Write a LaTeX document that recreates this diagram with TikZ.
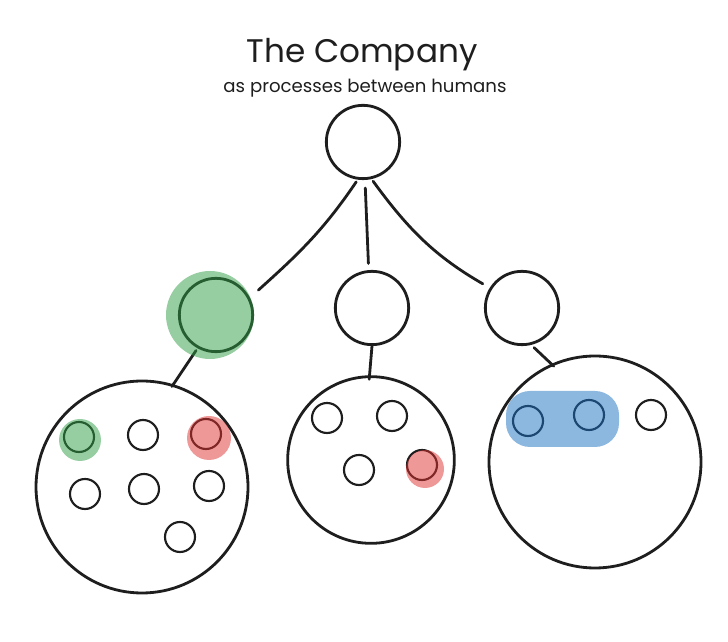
\documentclass[tikz,border=0pt]{standalone}
\usepackage{fontspec}
\setmainfont{Poppins}

\definecolor{ink}{HTML}{1E1E1E}
\definecolor{hlgreen}{HTML}{2F9E44}
\definecolor{hlred}{HTML}{E03131}
\definecolor{hlblue}{HTML}{1971C2}

\tikzset{
  proc/.style={circle, draw=ink, line width=2.1pt, minimum size=55pt, inner sep=0pt},
  team/.style={circle, draw=ink, line width=2.1pt, inner sep=0pt},
  human/.style={circle, draw=ink, line width=1.6pt, minimum size=22.5pt, inner sep=0pt},
  link/.style={ink, line width=2.1pt, line cap=round},
  hilite/.style={fill opacity=0.5},
}

\begin{document}
\begin{tikzpicture}[x=0.75pt, y=0.75pt]

\useasboundingbox (0,0) rectangle (728,642) ;

% heading
\node [anchor=base, ink] (title) at (362,579) {\fontsize{24.5}{30}\selectfont The Company} ;
\node [anchor=base, ink] (subtitle) at (365,549) {\fontsize{13.6}{16}\selectfont as processes between humans} ;

% processes
\node [proc] (top) at (363,500) {} ;
\node [proc] (grn) at (216,327) {} ;
\node [proc] (mid) at (372,334) {} ;
\node [proc] (rgt) at (522,334) {} ;

\draw [link, shorten <=2pt, shorten >=8.5pt] (top.-98) to [out=-124, in=42] (grn.27) ;
\draw [link, shorten <=6pt, shorten >=5pt] (top.-87) -- (mid.95) ;
\draw [link, shorten <=2pt, shorten >=6pt] (top.-77) to [out=-54, in=150] (rgt.148) ;

% teams of humans
\node [team, minimum size=159pt] (teamA) at (142,155) {} ;
\node [team, minimum size=125pt] (teamB) at (371,182) {} ;
\node [team, minimum size=159pt] (teamC) at (595,180) {} ;

\draw [link, shorten <=2pt, shorten >=-2pt] (grn.241) -- (teamA.73) ;
\draw [link, shorten >=-3pt] (mid.-90) -- (teamB.91) ;
\draw [link, shorten <=3pt, shorten >=-2.5pt] (rgt.-76) -- (teamC.114) ;

\foreach \name/\x/\y in {a1/79/205, a2/143/207, a3/206/208, a4/85/148, a5/144/153, a6/209/156, a7/180/105,
                         b1/327/224, b2/392/226, b3/359/172, b4/422/177,
                         c1/528/221, c2/589/227, c3/651/227}
  \node [human] (\name) at (\x,\y) {} ;

% highlights
\fill [hlgreen, hilite] (210,327) circle [radius=44] ;
\fill [hlgreen, hilite] (80,202) circle [radius=21] ;
\fill [hlred, hilite] (209,204) circle [radius=22] ;
\fill [hlred, hilite] (425,173) circle [radius=19] ;
\fill [hlblue, hilite, rounded corners=18pt] (506,195) rectangle (619,251) ;

\end{tikzpicture}
\end{document}
